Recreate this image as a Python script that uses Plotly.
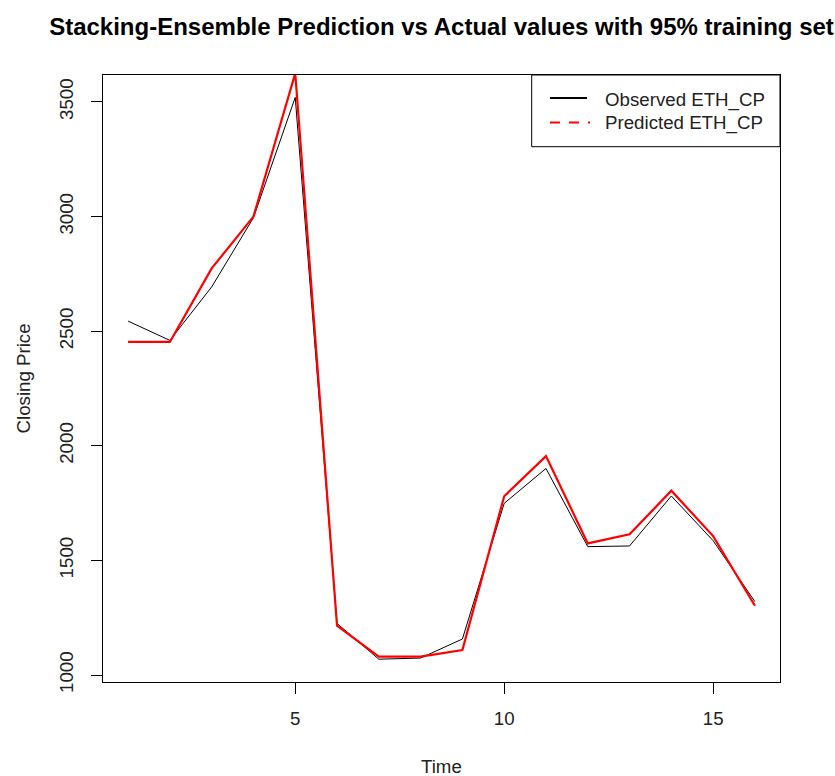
import plotly.graph_objects as go

time = list(range(1, 17))
observed = [2544, 2460, 2693, 2995, 3520, 1225, 1069, 1074, 1157, 1749, 1901, 1560, 1563, 1781, 1586, 1320]
predicted = [2453, 2453, 2774, 3000, 3625, 1215, 1080, 1080, 1109, 1780, 1955, 1574, 1614, 1804, 1606, 1302]
y_ticks = [1000, 1500, 2000, 2500, 3000, 3500]
x_ticks = [5, 10, 15]
title = "Stacking-Ensemble Prediction vs Actual values with 95% training set"
legend_labels = ["Observed ETH_CP", "Predicted ETH_CP"]

FONT = "Liberation Sans, Arial, sans-serif"
W, H = 835, 776
ML, MR, MT, MB = 103, 55, 75, 94
PW, PH = W - ML - MR, H - MT - MB

def px_x(p):
    return (p - ML) / PW

def px_y(p):
    return (H - MB - p) / PH

fig = go.Figure()
fig.add_trace(go.Scatter(x=time, y=observed, mode="lines",
                         line=dict(color="black", width=1), showlegend=False))
fig.add_trace(go.Scatter(x=time, y=predicted, mode="lines",
                         line=dict(color="#ff0000", width=2.2), showlegend=False))

axis_common = dict(showline=True, linecolor="black", linewidth=1, mirror=True,
                   ticks="outside", ticklen=11, tickcolor="black", tickwidth=1,
                   showgrid=False, zeroline=False,
                   tickfont=dict(family=FONT, size=18.7, color="#222"))

fig.update_xaxes(range=[0.4, 16.6], tickvals=x_ticks, ticklabelstandoff=9, **axis_common)
fig.update_yaxes(range=[969.5, 3617.7], tickvals=y_ticks, tickangle=-90,
                 ticklabelstandoff=11, **axis_common)

shapes = []
# legend box
shapes.append(dict(type="rect", xref="paper", yref="paper",
                   x0=px_x(531.7), x1=1, y0=px_y(146.7), y1=1,
                   line=dict(color="black", width=1), fillcolor="white", layer="above"))
shapes.append(dict(type="line", xref="paper", yref="paper",
                   x0=px_x(550), x1=px_x(587), y0=px_y(98), y1=px_y(98),
                   line=dict(color="black", width=2.2), layer="above"))
shapes.append(dict(type="line", xref="paper", yref="paper",
                   x0=px_x(550), x1=px_x(590), y0=px_y(122.5), y1=px_y(122.5),
                   line=dict(color="#ff0000", width=2.2, dash="10px,9px"), layer="above"))

annotations = []
for lab, yy in zip(legend_labels, [100.5, 123.5]):
    annotations.append(dict(text=lab, xref="paper", yref="paper", x=px_x(603), y=px_y(yy),
                            xanchor="left", yanchor="middle", showarrow=False,
                            font=dict(family=FONT, size=18.7, color="#222")))
annotations.append(dict(text="Closing Price", xref="paper", yref="paper",
                        x=px_x(23), y=px_y(378.5), textangle=-90,
                        xanchor="center", yanchor="middle", showarrow=False,
                        font=dict(family=FONT, size=18.7, color="#222")))
annotations.append(dict(text="Time", xref="paper", yref="paper",
                        x=0.5, y=px_y(766), xanchor="center", yanchor="middle", showarrow=False,
                        font=dict(family=FONT, size=18.7, color="#222")))

fig.update_layout(
    width=W, height=H,
    margin=dict(l=ML, r=MR, t=MT, b=MB),
    paper_bgcolor="white", plot_bgcolor="white",
    title=dict(text="<b>" + title + "</b>", x=0.5, xref="paper", xanchor="center",
               y=1 - 27 / H, yref="container", yanchor="middle",
               font=dict(family=FONT, size=24, color="black")),
    shapes=shapes, annotations=annotations, showlegend=False,
)

fig.write_html("out.html")
